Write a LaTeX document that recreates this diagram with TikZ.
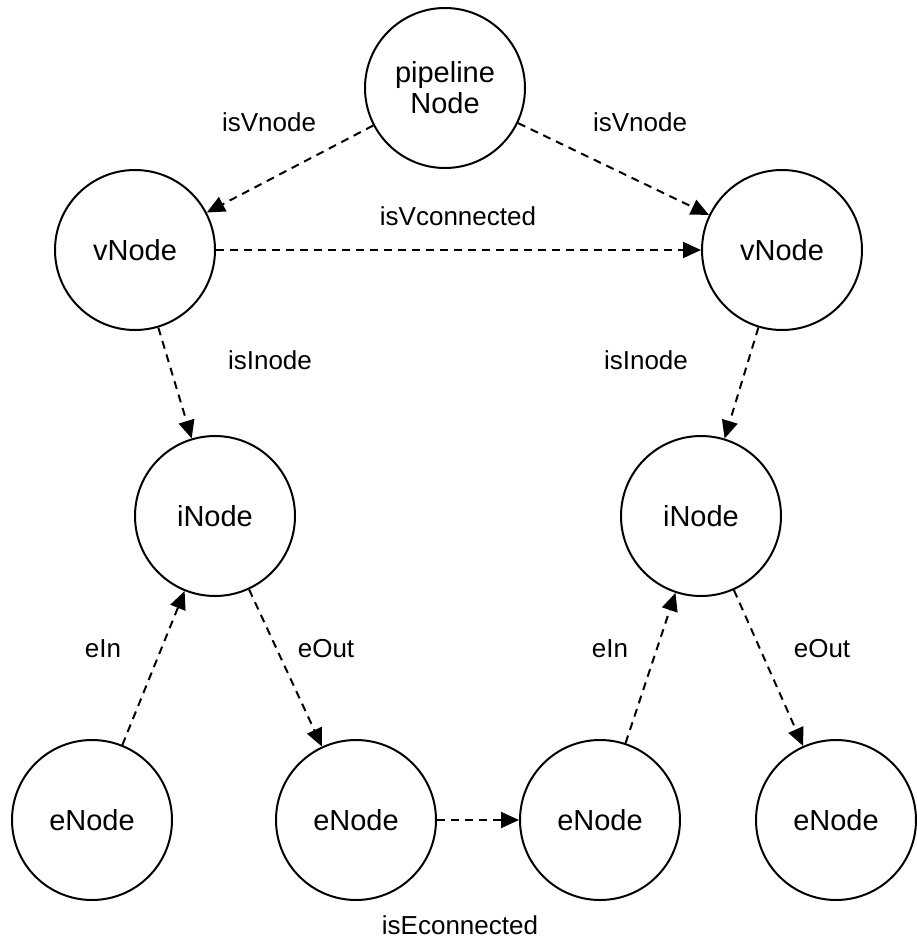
\documentclass[tikz,border=0pt]{standalone}
\usepackage{fontspec}
\setmainfont{Liberation Sans}
\usetikzlibrary{arrows.meta}
\begin{document}
\begin{tikzpicture}[x=1pt,y=-1pt,
  entity/.style={circle,draw,line width=2pt,minimum size=160pt,inner sep=0pt,
    font=\fontsize{29}{31}\selectfont,align=center},
  rel/.style={draw,line width=2pt,dash pattern=on 8pt off 6pt,
    -{Triangle[length=18pt,width=16pt]}},
  tag/.style={font=\fontsize{26}{30}\selectfont}]
\useasboundingbox (0,0) rectangle (917,943);

% entities
\node[entity] (P)  at (445,88)  {pipeline\\Node};
\node[entity] (V1) at (135,250) {vNode};
\node[entity] (V2) at (782,250) {vNode};
\node[entity] (I1) at (215,516) {iNode};
\node[entity] (I2) at (701,516) {iNode};
\node[entity] (E1) at (92,820)  {eNode};
\node[entity] (E2) at (356,820) {eNode};
\node[entity] (E3) at (600,820) {eNode};
\node[entity] (E4) at (836,820) {eNode};

% relations
\draw[rel] (P) -- (V1);
\draw[rel] (P) -- (V2);
\draw[rel] (V1) -- (V2);
\draw[rel] (V1) -- (I1);
\draw[rel] (V2) -- (I2);
\draw[rel] (E1) -- (I1);
\draw[rel] (I1) -- (E2);
\draw[rel] (E3) -- (I2);
\draw[rel] (I2) -- (E4);
\draw[rel] (E2) -- (E3);

% relation labels
\node[tag] (lPV1) at (269,122) {isVnode};
\node[tag] (lPV2) at (640,122) {isVnode};
\node[tag] (lVV)  at (458,216) {isVconnected};
\node[tag] (lVI1) at (270,360) {isInode};
\node[tag] (lVI2) at (646,360) {isInode};
\node[tag] (lEI1) at (103,649) {eIn};
\node[tag] (lIE1) at (326,649) {eOut};
\node[tag] (lEI2) at (610,649) {eIn};
\node[tag] (lIE2) at (822,649) {eOut};
\node[tag] (lEE)  at (460,925) {isEconnected};
\end{tikzpicture}
\end{document}
